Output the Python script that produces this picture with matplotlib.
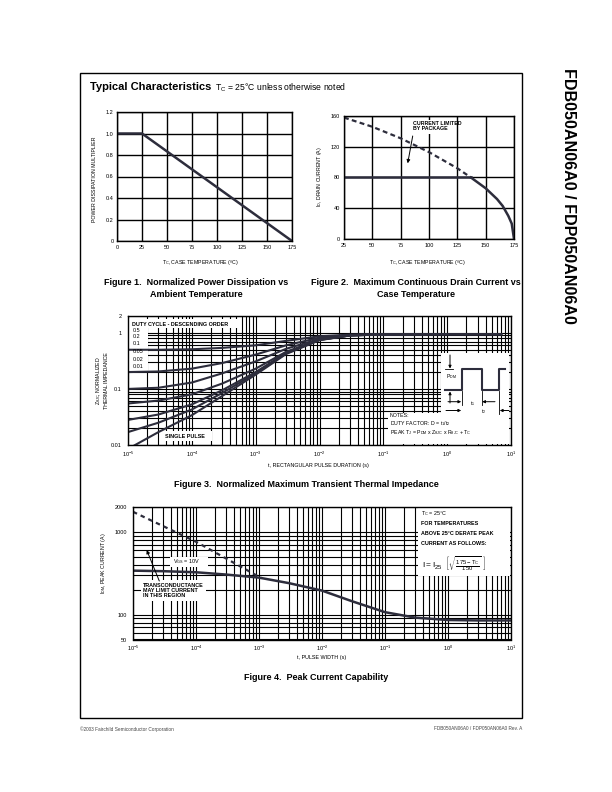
import matplotlib
matplotlib.use('Agg')
import matplotlib.pyplot as plt
from matplotlib.patches import Rectangle
from matplotlib.transforms import Affine2D
from matplotlib.ticker import LogLocator, NullFormatter, FixedLocator, FixedFormatter
import numpy as np

plt.rcParams['font.family'] = ['Liberation Sans', 'DejaVu Sans']
plt.rcParams['mathtext.fontset'] = 'custom'
plt.rcParams['mathtext.rm'] = 'Liberation Sans'
plt.rcParams['mathtext.it'] = 'Liberation Sans'
plt.rcParams['mathtext.bf'] = 'Liberation Sans:bold'

# --- data ---
# fig 1: power derating
tc1 = [0, 25, 175]
pd_mult = [1.0, 1.0, 0.0]

# fig 2: drain current vs case temp
tc_pkg = [25, 137]
i_pkg = [80, 80]
tc_si_dash = [25, 50, 75, 100, 125, 137]
i_si_dash = [158, 146, 131, 113, 92, 80]
tc_si = [137, 150, 160, 165, 170, 173, 175]
i_si = [80, 66, 52, 43, 30, 20, 0]

# fig 3: transient thermal impedance
t3 = [1e-5, 3e-5, 1e-4, 3e-4, 1e-3, 3e-3, 1e-2, 3e-2, 1e-1, 1, 7]
duty_labels = ['0.5', '0.2', '0.1', '0.05', '0.02', '0.01']
z_05 = [0.5, 0.5, 0.51, 0.54, 0.6, 0.72, 0.87, 0.93, 0.95, 0.95, 0.95]
z_02 = [0.2, 0.205, 0.23, 0.29, 0.41, 0.6, 0.82, 0.92, 0.94, 0.95, 0.95]
z_01 = [0.1, 0.105, 0.13, 0.19, 0.31, 0.52, 0.78, 0.91, 0.94, 0.95, 0.95]
z_005 = [0.055, 0.062, 0.08, 0.125, 0.23, 0.46, 0.76, 0.9, 0.94, 0.95, 0.95]
z_002 = [0.028, 0.035, 0.053, 0.095, 0.2, 0.44, 0.75, 0.9, 0.94, 0.95, 0.95]
z_001 = [0.017, 0.025, 0.043, 0.085, 0.19, 0.43, 0.75, 0.9, 0.94, 0.95, 0.95]
z_single = [0.0085, 0.017, 0.034, 0.075, 0.18, 0.42, 0.74, 0.9, 0.94, 0.95, 0.95]

# fig 4: peak current
t4 = [1e-5, 3e-5, 1e-4, 3e-4, 1e-3, 3e-3, 1e-2, 3e-2, 1e-1, 3e-1, 1, 3, 10]
i_vgs10 = [340, 335, 325, 305, 280, 240, 195, 145, 107, 92, 86, 85, 85]
t4_gfs = [1e-5, 1e-4, 1.1e-3]
i_gfs = [1750, 760, 275]

dec_ticks = [1e-5, 1e-4, 1e-3, 1e-2, 1e-1, 1, 10]
dec_labels = [r'$\mathregular{10^{-5}}$', r'$\mathregular{10^{-4}}$', r'$\mathregular{10^{-3}}$',
              r'$\mathregular{10^{-2}}$', r'$\mathregular{10^{-1}}$', r'$\mathregular{10^{0}}$',
              r'$\mathregular{10^{1}}$']

LC = '#2d2d3c'
W, H = 612, 792
fig = plt.figure(figsize=(W / 100, H / 100), dpi=100)
PX = Affine2D().scale(1 / W, -1 / H).translate(0, 1) + fig.transFigure


def px_axes(l, t, r, b):
    return fig.add_axes([l / W, 1 - b / H, (r - l) / W, (b - t) / H])


def ftext(x, y, s, **kw):
    kw.setdefault('ha', 'center')
    kw.setdefault('va', 'center')
    fig.text(x / W, 1 - y / H, s, **kw)


def style(ax, xpad, ypad, gw=1.0):
    ax.set_axisbelow(True)
    ax.tick_params(which='both', length=0, labelsize=4.0)
    ax.tick_params(axis='x', pad=xpad)
    ax.tick_params(axis='y', pad=ypad)
    for sp in ax.spines.values():
        sp.set_linewidth(1.0)
    ax.grid(True, which='both', color='black', lw=gw)


def box(ax, x, y, w, h, z=1):
    ax.add_patch(Rectangle((x, y), w, h, transform=PX, fc='white', ec='none',
                           zorder=z, clip_on=False))


def ptext(ax, x, y, s, size=3.9, bold=True, **kw):
    kw.setdefault('ha', 'left')
    kw.setdefault('va', 'center')
    ax.text(x, y, s, transform=PX, fontsize=size, fontweight='bold' if bold else 'normal',
            zorder=4, clip_on=False, **kw)


def parrow(ax, x1, y1, x2, y2, lw=0.7, ms=5):
    ax.annotate('', xy=(x2, y2), xytext=(x1, y1), xycoords=PX, textcoords=PX,
                arrowprops=dict(arrowstyle='-|>', lw=lw, color='black', mutation_scale=ms,
                                shrinkA=0, shrinkB=0), zorder=4)


# page frame and headings
ov = fig.add_axes([0, 0, 1, 1])
ov.set_xlim(0, W)
ov.set_ylim(H, 0)
ov.axis('off')
ov.add_patch(Rectangle((80, 73), 442, 645, fill=False, ec='black', lw=1.0))
ftext(90, 87, 'Typical Characteristics', ha='left', fontsize=8, fontweight='bold')
ftext(215, 88, r'T$_\mathregular{C}$ = 25°C unless otherwise noted', ha='left', fontsize=6.2)
ftext(568, 68, 'FDB050AN06A0 / FDP050AN06A0', rotation=-90, va='top', fontsize=11.6,
      fontweight='bold')
ftext(80, 729, '©2003 Fairchild Semiconductor Corporation', ha='left', fontsize=3.4, color='#444444')
ftext(522, 729, 'FDB050AN06A0 / FDP050AN06A0 Rev. A', ha='right', fontsize=3.4, color='#444444')

# ---- figure 1 ----
ax1 = px_axes(117, 112, 292, 241)
ax1.plot(tc1, pd_mult, color=LC, lw=1.8, solid_capstyle='butt')
ax1.set_xlim(0, 175)
ax1.set_ylim(0, 1.2)
ax1.set_xticks(range(0, 176, 25))
ax1.set_yticks([0, 0.2, 0.4, 0.6, 0.8, 1.0, 1.2])
ax1.set_yticklabels(['0', '0.2', '0.4', '0.6', '0.8', '1.0', '1.2'])
style(ax1, 2.6, 2.6)
ftext(95, 179, 'POWER DISSIPATION MULTIPLIER', rotation=90, fontsize=3.8)
ftext(200, 262.5, r'T$_\mathregular{C}$, CASE TEMPERATURE (ºC)', fontsize=3.8)
ftext(196, 283, 'Figure 1.  Normalized Power Dissipation vs', fontsize=6.5, fontweight='bold')
ftext(196, 295, 'Ambient Temperature', fontsize=6.5, fontweight='bold')

# ---- figure 2 ----
ax2 = px_axes(344, 116, 514, 239)
ax2.plot(tc_pkg, i_pkg, color=LC, lw=1.8)
ax2.plot(tc_si_dash, i_si_dash, color=LC, lw=1.6, ls=(0, (2.2, 1.5)))
ax2.plot(tc_si, i_si, color=LC, lw=1.8)
ax2.set_xlim(25, 175)
ax2.set_ylim(0, 160)
ax2.set_xticks(range(25, 176, 25))
ax2.set_yticks(range(0, 161, 40))
style(ax2, 2.8, 2.8)
box(ax2, 411, 120, 44, 14)
ptext(ax2, 413, 121, 'CURRENT LIMITED\nBY PACKAGE', size=3.8, va='top', linespacing=0.95)
parrow(ax2, 412.7, 136, 407.7, 163.3)
ftext(320, 177, r'I$_\mathregular{D}$, DRAIN CURRENT (A)', rotation=90, fontsize=3.8)
ftext(427, 262.5, r'T$_\mathregular{C}$, CASE TEMPERATURE (ºC)', fontsize=3.8)
ftext(416, 283, 'Figure 2.  Maximum Continuous Drain Current vs', fontsize=6.5, fontweight='bold')
ftext(416, 295, 'Case Temperature', fontsize=6.5, fontweight='bold')

# ---- figure 3 ----
ax3 = px_axes(128, 316, 511, 445)
for z in [z_05, z_02, z_01, z_005, z_002, z_001, z_single]:
    ax3.plot(t3, z, color=LC, lw=1.5, zorder=2)
ax3.set_xscale('log')
ax3.set_yscale('log')
ax3.set_xlim(1e-5, 10)
ax3.set_ylim(0.01, 2)
ax3.xaxis.set_major_locator(FixedLocator(dec_ticks))
ax3.xaxis.set_major_formatter(FixedFormatter(dec_labels))
ax3.xaxis.set_minor_locator(LogLocator(base=10, subs=range(2, 10), numticks=20))
ax3.yaxis.set_major_locator(FixedLocator([0.01, 0.1, 1, 2]))
ax3.yaxis.set_major_formatter(FixedFormatter(['0.01', '0.1', '1', '2']))
ax3.yaxis.set_minor_locator(LogLocator(base=10, subs=range(2, 10), numticks=20))
ax3.xaxis.set_minor_formatter(NullFormatter())
ax3.yaxis.set_minor_formatter(NullFormatter())
style(ax3, 3.2, 4.5, gw=0.8)
box(ax3, 129, 319, 111, 9)
ptext(ax3, 132, 324, 'DUTY CYCLE - DESCENDING ORDER', size=3.9)
box(ax3, 129, 328, 19, 43)
for lab, yy in zip(duty_labels, [331, 336, 343.5, 351.5, 359.5, 366.5]):
    ptext(ax3, 133, yy, lab, size=3.9, bold=False)
box(ax3, 163, 431, 49, 10)
ptext(ax3, 165, 436, 'SINGLE PULSE', size=3.9)
# notes box with the pulse diagram
box(ax3, 441, 353, 68, 61, z=2.5)
box(ax3, 388, 413, 121, 31, z=2.5)
ax3.plot([445, 461.7, 461.7, 481.7, 481.7, 499.3, 499.3, 505],
         [390, 390, 369.3, 369.3, 390, 390, 369.3, 369.3],
         transform=PX, color=LC, lw=1.5, zorder=3, clip_on=False)
ax3.plot([445, 453], [369.3, 369.3], transform=PX, color='k', lw=0.6, zorder=3, clip_on=False)
for xx, y0, y1 in [(461.7, 391, 405), (481.7, 391, 405), (499.3, 391, 414)]:
    ax3.plot([xx, xx], [y0, y1], transform=PX, color='k', lw=0.6, zorder=3, clip_on=False)
parrow(ax3, 450, 355, 450, 368.5, ms=4)
parrow(ax3, 450, 403, 450, 391.5, ms=4)
parrow(ax3, 448, 401.7, 461.2, 401.7, ms=4)
parrow(ax3, 495, 401.7, 482.2, 401.7, ms=4)
parrow(ax3, 446, 410.5, 461.2, 410.5, ms=4)
parrow(ax3, 509, 410.5, 499.8, 410.5, ms=4)
ptext(ax3, 446, 377, r'P$_\mathregular{DM}$', size=3.7, bold=False)
ptext(ax3, 470, 403.5, r't$_\mathregular{1}$', size=3.7, bold=False)
ptext(ax3, 481, 411.5, r't$_\mathregular{2}$', size=3.7, bold=False)
ptext(ax3, 390, 425, 'NOTES:\nDUTY FACTOR: D = t$_\\mathregular{1}$/t$_\\mathregular{2}$\n'
      'PEAK T$_\\mathregular{J}$ = P$_\\mathregular{DM}$ x Z$_\\mathregular{θJC}$ x '
      'R$_\\mathregular{θJC}$ + T$_\\mathregular{C}$', size=3.8, bold=False, linespacing=1.05)
ftext(99, 381, r'Z$_\mathregular{θJC}$, NORMALIZED', rotation=90, fontsize=3.8)
ftext(106, 381, 'THERMAL IMPEDANCE', rotation=90, fontsize=3.8)
ftext(318, 465, 't, RECTANGULAR PULSE DURATION (s)', fontsize=3.9)
ftext(306, 484, 'Figure 3.  Normalized Maximum Transient Thermal Impedance', fontsize=6.5,
      fontweight='bold')

# ---- figure 4 ----
ax4 = px_axes(133, 507, 511, 639.5)
ax4.plot(t4, i_vgs10, color=LC, lw=1.8, zorder=2)
ax4.plot(t4_gfs, i_gfs, color=LC, lw=1.6, ls=(0, (2.0, 1.8)), zorder=2)
ax4.set_xscale('log')
ax4.set_yscale('log')
ax4.set_xlim(1e-5, 10)
ax4.set_ylim(50, 2000)
ax4.xaxis.set_major_locator(FixedLocator(dec_ticks))
ax4.xaxis.set_major_formatter(FixedFormatter(dec_labels))
ax4.xaxis.set_minor_locator(LogLocator(base=10, subs=range(2, 10), numticks=20))
ax4.yaxis.set_major_locator(FixedLocator([50, 100, 1000, 2000]))
ax4.yaxis.set_major_formatter(FixedFormatter(['50', '100', '1000', '2000']))
ax4.yaxis.set_minor_locator(LogLocator(base=10, subs=range(2, 10), numticks=20))
ax4.xaxis.set_minor_formatter(NullFormatter())
ax4.yaxis.set_minor_formatter(NullFormatter())
style(ax4, 3.0, 4.3, gw=0.8)
box(ax4, 170, 557, 38, 10)
ptext(ax4, 173, 562, r'V$_\mathregular{GS}$ = 10V', size=3.9, bold=False)
box(ax4, 141, 580, 65, 21)
ptext(ax4, 143, 590.5, 'TRANSCONDUCTANCE\nMAY LIMIT CURRENT\nIN THIS REGION', size=3.9,
      linespacing=0.95)
parrow(ax4, 159.3, 581, 146.7, 550)
box(ax4, 418, 507.5, 92, 68)
ptext(ax4, 421, 513.5, r'T$_\mathregular{C}$ = 25°C', size=3.9, bold=False)
ptext(ax4, 421, 523.5, 'FOR TEMPERATURES', size=3.9)
ptext(ax4, 421, 533.5, 'ABOVE 25°C DERATE PEAK', size=3.9)
ptext(ax4, 421, 543.5, 'CURRENT AS FOLLOWS:', size=3.9)
ptext(ax4, 422, 564, r'$I = I_{25}\ \ \left[\sqrt{\frac{175 - T_C}{150}}\ \right]$', size=6,
      bold=False)
ftext(104, 563, r'I$_\mathregular{DM}$, PEAK CURRENT (A)', rotation=90, fontsize=3.8)
ftext(322, 657, 't, PULSE WIDTH (s)', fontsize=3.9)
ftext(316, 677, 'Figure 4.  Peak Current Capability', fontsize=6.5, fontweight='bold')

fig.savefig('out.png', dpi=100)
